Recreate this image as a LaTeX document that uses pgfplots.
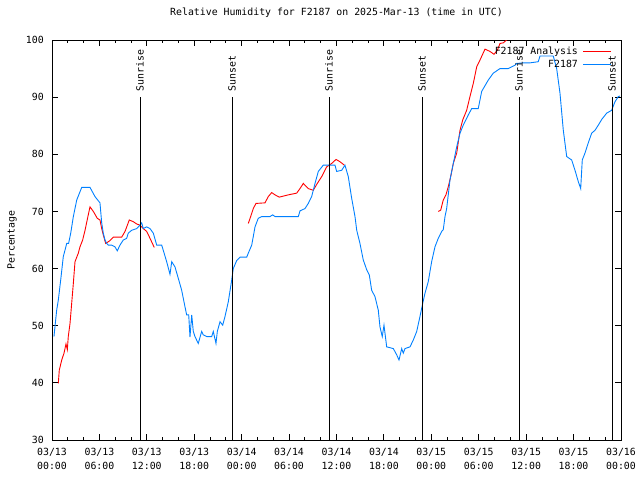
\documentclass[border=0pt]{standalone}
\usepackage{fontspec}
\setmainfont{DejaVu Sans Mono}
\usepackage{pgfplots}
\pgfplotsset{compat=1.18}

\definecolor{obsblue}{RGB}{0,128,255}
\definecolor{anared}{RGB}{255,0,0}

\newcommand{\gfont}{\fontsize{9.9}{15}\selectfont}

\begin{document}
\begin{tikzpicture}
\useasboundingbox (0,0) rectangle (640bp,480bp);
\begin{axis}[
    at={(52bp,40bp)}, anchor=south west,
    scale only axis,
    width=569bp, height=400bp,
    xmin=0, xmax=72,
    ymin=30, ymax=100,
    axis line style={line width=0.9bp},
    font=\gfont,
    /pgf/number format/assume math mode=true,
    xtick={0,6,...,72},
    minor xtick={2,4,8,10,14,16,20,22,26,28,32,34,38,40,44,46,50,52,56,58,62,64,68,70},
    xticklabels={{03/13\\00:00},{03/13\\06:00},{03/13\\12:00},{03/13\\18:00},
                 {03/14\\00:00},{03/14\\06:00},{03/14\\12:00},{03/14\\18:00},
                 {03/15\\00:00},{03/15\\06:00},{03/15\\12:00},{03/15\\18:00},
                 {03/16\\00:00}},
    xticklabel style={align=center, inner sep=0pt, yshift=-7.5bp, font=\gfont},
    ytick={30,40,...,100},
    yticklabel style={inner sep=0pt, xshift=-8bp, font=\gfont},
    major tick length=6bp,
    minor tick length=3bp,
    tick style={black, line width=0.9bp},
    ylabel={Percentage},
    ylabel style={at={(axis description cs:-0.0703,0.5)}, anchor=center, font=\gfont},
    title={Relative Humidity for F2187 on 2025-Mar-13 (time in UTC)},
    title style={at={(axis description cs:0.5,1)}, anchor=center, yshift=21bp, font=\gfont},
    legend style={at={(axis description cs:1,1)}, anchor=north east,
        xshift=-9bp, yshift=-4.5bp, draw=none, fill=none, font=\gfont,
        inner sep=0pt, row sep=0bp, column sep=3bp, legend cell align=right},
    legend plot pos=right,
    legend image code/.code={\draw[#1] (0bp,0bp) -- (28bp,0bp);},
    unbounded coords=jump,
]

% F2187 Analysis
\addplot[anared, line width=0.9bp] coordinates {
(0.80,39.9) (0.92,42.2) (1.23,44.0) (1.52,45.2) (1.77,46.8) (1.94,45.8)
(2.06,48.1) (2.28,50.4) (2.49,53.9) (2.70,57.4) (2.91,61.2) (3.33,62.7)
(3.54,63.8) (3.88,65.0) (4.18,66.7) (4.59,69.4) (4.81,70.8) (5.23,70.0)
(5.73,68.8) (6.07,68.5) (6.29,67.0) (6.49,65.9) (6.79,64.4) (7.34,64.9)
(7.76,65.5) (8.82,65.5) (9.24,66.5) (9.78,68.5) (10.29,68.2) (10.72,67.8)
(11.13,67.6) (11.55,67.0) (11.98,66.5) (12.40,65.3) (12.94,63.7)
(13.00,nan)
(24.84,67.9) (25.14,69.1) (25.47,70.5) (25.81,71.4) (26.95,71.5) (27.37,72.6)
(27.80,73.3) (28.22,72.9) (28.76,72.5) (29.90,72.9) (30.96,73.2) (31.38,74.0)
(31.80,74.9) (32.43,74.0) (33.06,73.7) (33.57,74.9) (34.13,76.1) (34.76,77.8)
(35.39,78.4) (35.94,79.1) (36.44,78.7) (36.99,78.1)
(37.00,nan)
(48.88,70.0) (49.18,70.2) (49.51,72.0) (49.85,72.9) (50.14,74.3) (50.45,76.1)
(50.78,78.4) (51.21,80.2) (51.63,84.2) (51.97,86.0) (52.47,87.7) (52.89,90.1)
(53.31,92.4) (53.74,95.3) (54.16,96.5) (54.79,98.4) (55.42,98.0) (55.93,97.5)
(56.35,98.2) (56.69,99.4) (57.10,99.5) (57.61,100.1) (58.50,101.0)
};
\addlegendentry{F2187 Analysis}

% F2187 observations
\addplot[obsblue, line width=0.9bp] coordinates {
(0.25,48.1) (0.59,52.7) (0.80,54.5) (1.10,58.0) (1.43,62.1) (1.64,63.2)
(1.86,64.4) (2.10,64.4) (2.37,66.2) (2.70,69.1) (3.13,72.0) (3.76,74.2)
(4.81,74.2) (5.44,72.6) (6.07,71.5) (6.29,68.0) (6.49,66.2) (6.71,65.0)
(6.92,64.4) (7.12,64.1) (7.55,64.1) (7.97,63.8) (8.26,63.1) (8.60,64.1)
(9.02,65.0) (9.45,65.3) (9.65,66.2) (10.08,66.7) (10.72,67.0) (11.13,67.6)
(11.35,68.0) (11.55,67.0) (11.98,67.3) (12.40,67.0) (12.82,66.2) (13.25,64.1)
(13.88,64.1) (14.08,63.2) (14.51,61.2) (14.93,59.0) (15.15,61.2) (15.56,60.3)
(15.98,58.3) (16.41,56.2) (16.83,53.3) (17.04,51.9) (17.30,51.9) (17.46,48.0)
(17.68,51.9) (17.88,49.0) (18.09,48.1) (18.51,46.9) (18.94,49.0) (19.14,48.4)
(19.57,48.1) (20.21,48.1) (20.41,49.0) (20.75,46.9) (20.92,49.0) (21.26,50.7)
(21.60,50.1) (21.89,51.6) (22.31,54.2) (22.74,58.0) (22.94,60.0) (23.37,61.4)
(23.79,62.0) (24.64,62.0) (24.84,62.7) (25.27,64.1) (25.47,65.6) (25.69,67.3)
(26.10,68.8) (26.53,69.1) (27.58,69.1) (27.93,69.4) (28.22,69.1) (31.17,69.1)
(31.38,70.1) (32.01,70.5) (32.43,71.4) (32.86,72.6) (33.28,74.9) (33.70,77.0)
(34.33,78.1) (35.81,78.1) (36.02,77.0) (36.66,77.2) (37.07,78.1) (37.49,76.1)
(37.92,72.3) (38.34,69.1) (38.56,66.7) (38.97,64.4) (39.39,61.5) (39.82,59.8)
(40.15,58.9) (40.45,56.2) (40.87,55.1) (41.29,52.7) (41.50,49.8) (41.79,48.1)
(42.01,50.1) (42.35,46.3) (43.19,46.0) (43.62,44.9) (43.91,44.0) (44.25,46.0)
(44.45,45.2) (44.67,46.0) (45.30,46.3) (45.72,47.5) (46.15,49.0) (46.56,51.6)
(46.91,53.9) (47.20,55.7) (47.61,57.7) (48.04,61.2) (48.46,63.8) (48.88,65.3)
(49.31,66.5) (49.51,66.8) (49.73,69.1) (49.94,70.5) (50.36,75.5) (50.78,78.4)
(51.21,81.3) (51.63,83.7) (52.04,85.1) (52.68,86.9) (53.11,88.0) (53.94,88.0)
(54.37,91.0) (55.21,93.0) (55.84,94.2) (56.69,95.0) (57.74,95.0) (58.59,95.6)
(58.80,95.9) (59.64,96.0) (60.48,96.0) (61.53,96.2) (61.75,97.2) (63.43,97.2)
(63.86,95.0) (64.28,90.7) (64.70,84.2) (65.13,79.6) (65.76,79.0) (66.18,77.2)
(66.60,75.2) (66.90,74.0) (67.10,79.0) (67.44,80.2) (67.86,82.0) (68.29,83.7)
(68.71,84.2) (69.13,85.1) (69.56,86.1) (70.19,87.2) (70.82,87.7) (71.24,89.2)
(71.66,90.1) (71.87,90.2)
};
\addlegendentry{F2187}

% sunrise / sunset markers
\addplot[black, line width=0.9bp, forget plot] coordinates {(11.13,30) (11.13,90)};
\addplot[black, line width=0.9bp, forget plot] coordinates {(22.78,30) (22.78,90)};
\addplot[black, line width=0.9bp, forget plot] coordinates {(35.05,30) (35.05,90)};
\addplot[black, line width=0.9bp, forget plot] coordinates {(46.82,30) (46.82,90)};
\addplot[black, line width=0.9bp, forget plot] coordinates {(59.09,30) (59.09,90)};
\addplot[black, line width=0.9bp, forget plot] coordinates {(70.86,30) (70.86,90)};

\node[rotate=90, anchor=west, inner sep=0pt, font=\gfont] at (axis cs:11.13,91) {Sunrise};
\node[rotate=90, anchor=west, inner sep=0pt, font=\gfont] at (axis cs:22.78,91) {Sunset};
\node[rotate=90, anchor=west, inner sep=0pt, font=\gfont] at (axis cs:35.05,91) {Sunrise};
\node[rotate=90, anchor=west, inner sep=0pt, font=\gfont] at (axis cs:46.82,91) {Sunset};
\node[rotate=90, anchor=west, inner sep=0pt, font=\gfont] at (axis cs:59.09,91) {Sunrise};
\node[rotate=90, anchor=west, inner sep=0pt, font=\gfont] at (axis cs:70.86,91) {Sunset};

\end{axis}
\end{tikzpicture}
\end{document}
